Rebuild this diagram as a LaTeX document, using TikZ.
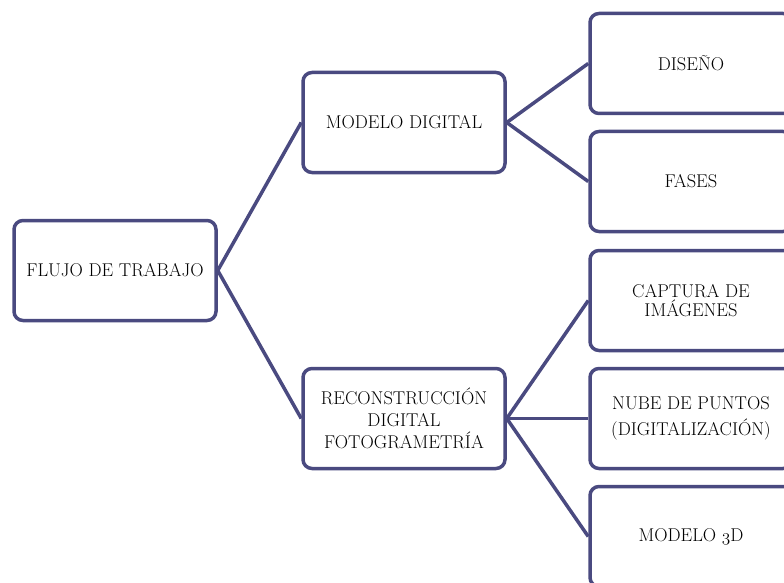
\documentclass[tikz,border=0pt]{standalone}
\usepackage{fontspec}
\definecolor{edgeblue}{HTML}{4A4A80}
\newcommand{\osthree}{{\usefont{OML}{cmm}{m}{it}3}}
\tikzset{
  box/.style={draw=edgeblue, line width=3.5pt, rounded corners=9pt, fill=white,
    minimum width=202pt, minimum height=100pt, align=center, inner sep=2pt,
    font=\fontsize{18.5}{21}\selectfont, text=black},
  link/.style={draw=edgeblue, line width=3.5pt},
}
\begin{document}
\begin{tikzpicture}[x=1pt,y=-1pt]
\clip (0,0) rectangle (784,583);
\fill[white] (0,0) rectangle (784,583);
\node[box] (root) at (115,270.5) {FLUJO DE TRABAJO};
\node[box] (modelo) at (404,122.5) {MODELO DIGITAL};
\node[box, font=\fontsize{18.5}{22}\selectfont] (recon) at (404,418.5) {RECONSTRUCCIÓN\\DIGITAL\\FOTOGRAMETRÍA};
\node[box] (diseno) at (691,63.5) {DISEÑO};
\node[box] (fases) at (691,181.5) {FASES};
\node[box, font=\fontsize{18.5}{19}\selectfont] (captura) at (691,300.5) {CAPTURA DE\\IMÁGENES};
\node[box, font=\fontsize{18.5}{26}\selectfont] (nube) at (691,418.5) {NUBE DE PUNTOS\\(DIGITALIZACIÓN)};
\node[box] (m3d) at (691,536.5) {MODELO \osthree D};
\draw[link] (root.east) -- (modelo.west);
\draw[link] (root.east) -- (recon.west);
\draw[link] (modelo.east) -- (diseno.west);
\draw[link] (modelo.east) -- (fases.west);
\draw[link] (recon.east) -- (captura.west);
\draw[link] (recon.east) -- (nube.west);
\draw[link] (recon.east) -- (m3d.west);
\end{tikzpicture}
\end{document}
